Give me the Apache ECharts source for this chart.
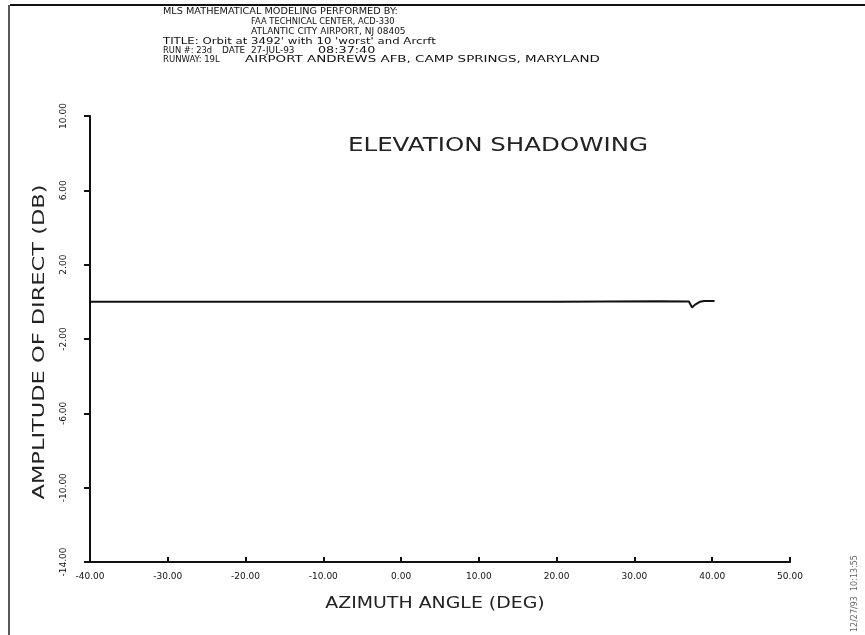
<!DOCTYPE html>
<html><head><meta charset="utf-8">
<script src="https://cdn.jsdelivr.net/npm/echarts@6/dist/echarts.min.js"></script>
<style>html,body{margin:0;padding:0;background:#fff}#c{width:865px;height:635px}</style>
</head><body><div id="c"></div>
<script>
const azimuth = [-40, -20, 0, 20, 33, 37.0, 37.4, 37.8, 38.4, 39.0, 40.3];
const amplitude = [0.0, 0.0, 0.0, 0.0, 0.03, 0.02, -0.3, -0.15, 0.0, 0.05, 0.05];
const headerLines = [
  ['MLS MATHEMATICAL MODELING PERFORMED BY:', 163, 12, 1.14],
  ['FAA TECHNICAL CENTER, ACD-330', 251, 22, 0.98],
  ['ATLANTIC CITY AIRPORT, NJ 08405', 251, 32, 1.06],
  ["TITLE: Orbit at 3492' with 10 'worst' and Arcrft", 163, 42, 1.38],
  ['RUN #: 23d', 163, 51, 0.98],
  ['DATE  27-JUL-93', 222, 51, 1.05],
  ['08:37:40', 318, 51, 1.5],
  ['RUNWAY: 19L', 163, 60, 1.0],
  ['AIRPORT ANDREWS AFB, CAMP SPRINGS, MARYLAND', 245, 60, 1.58]
];
const plotTitle = 'ELEVATION SHADOWING';
const xName = 'AZIMUTH ANGLE (DEG)';
const yName = 'AMPLITUDE OF DIRECT (DB)';
const stamp = '12/27/93  10:13:55';

const chart = echarts.init(document.getElementById('c'));
const font = 'DejaVu Sans';
const graphics = headerLines.map(([t, x, y, s]) => ({
  type: 'text', x: x, y: y, scaleX: s, scaleY: 1,
  style: { text: t, font: '8.5px "DejaVu Sans"', fill: '#111', textVerticalAlign: 'middle' }
}));
graphics.push(
  { type: 'line', shape: { x1: 10, y1: 5, x2: 865, y2: 5 }, style: { stroke: '#111', lineWidth: 2 } },
  { type: 'line', shape: { x1: 9, y1: 5, x2: 9, y2: 635 }, style: { stroke: '#222', lineWidth: 1.5 } },
  { type: 'text', x: 498, y: 146, scaleX: 1.29, scaleY: 1,
    style: { text: plotTitle, font: '19px "DejaVu Sans"', fill: '#222', textAlign: 'center', textVerticalAlign: 'middle' } },
  { type: 'text', x: 435, y: 604, scaleX: 1.26, scaleY: 1,
    style: { text: xName, font: '15px "DejaVu Sans"', fill: '#222', textAlign: 'center', textVerticalAlign: 'middle' } },
  { type: 'text', x: 40, y: 342, rotation: Math.PI / 2, scaleX: 1.5, scaleY: 1,
    style: { text: yName, font: '15px "DejaVu Sans"', fill: '#222', textAlign: 'center', textVerticalAlign: 'middle' } },
  { type: 'text', x: 851, y: 632, rotation: Math.PI / 2, style: { text: stamp, font: '8px "DejaVu Sans"', fill: '#666' } }
);
chart.setOption({
  backgroundColor: '#fff',
  animation: false,
  grid: { left: 90, right: 75, top: 116, bottom: 73 },
  xAxis: {
    type: 'value', min: -40, max: 50, interval: 10,
    axisLine: { onZero: false, lineStyle: { color: '#111', width: 2 } },
    axisTick: { inside: true, length: 5, lineStyle: { color: '#111', width: 2 } },
    axisLabel: { fontFamily: font, fontSize: 9, color: '#111', margin: 10, formatter: v => v.toFixed(2) },
    splitLine: { show: false }
  },
  yAxis: {
    type: 'value', min: -14, max: 10, interval: 4,
    axisLine: { onZero: false, lineStyle: { color: '#111', width: 2 } },
    axisTick: { inside: false, length: 6, lineStyle: { color: '#111', width: 2 } },
    axisLabel: { fontFamily: font, fontSize: 9, color: '#111', rotate: 90, margin: 22, formatter: v => v.toFixed(2) },
    splitLine: { show: false }
  },
  series: [{
    type: 'line', data: azimuth.map((x, i) => [x, amplitude[i]]),
    showSymbol: false, lineStyle: { color: '#111', width: 2 }
  }],
  graphic: graphics
});
</script></body></html>
